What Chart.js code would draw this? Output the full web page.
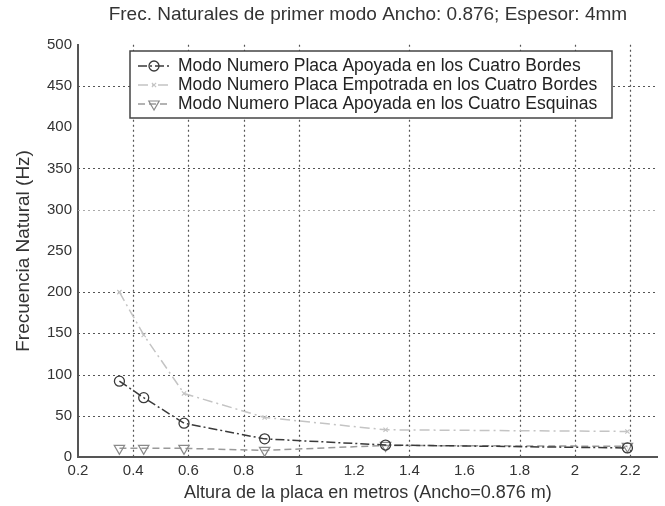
<!DOCTYPE html>
<html>
<head>
<meta charset="utf-8">
<script src="https://cdn.jsdelivr.net/npm/chart.js@4/dist/chart.umd.min.js"></script>
<style>
  html, body { margin: 0; padding: 0; background: #ffffff; }
  canvas { display: block; }
</style>
</head>
<body>
<canvas id="c" width="665" height="506"></canvas>
<script>
// ---- data ----
const alturas = [0.35, 0.438, 0.584, 0.876, 1.314, 2.19];          // plate height (m)
const apoyadaBordes = [92, 72, 41, 22, 14.5, 11];                  // Hz
const empotradaBordes = [200, 148, 77, 48, 33, 31];                // Hz
const apoyadaEsquinas = [10.5, 10.5, 10.5, 8, 14, 13];             // Hz
const xTicks = [0.2, 0.4, 0.6, 0.8, 1, 1.2, 1.4, 1.6, 1.8, 2, 2.2];
const yTicks = [0, 50, 100, 150, 200, 250, 300, 350, 400, 450, 500];
// grid lines that are visible in the reference
const xGrid = [0.4, 0.6, 0.8, 1, 1.4, 1.8, 2, 2.2];
const yGrid = [50, 100, 150, 200, 300, 350, 450];
const seriesNames = [
  'Modo Numero Placa Apoyada en los Cuatro Bordes',
  'Modo Numero Placa Empotrada en los Cuatro Bordes',
  'Modo Numero Placa Apoyada en los Cuatro Esquinas'
];
const titulo = 'Frec. Naturales de primer modo Ancho: 0.876; Espesor: 4mm';
const tituloX = 'Altura de la placa en metros (Ancho=0.876 m)';
const tituloY = 'Frecuencia Natural (Hz)';

const toPts = ys => ys.map((y, i) => ({ x: alturas[i], y: y }));
const FONT = '"Liberation Sans", Arial, Helvetica, sans-serif';

const dottedGrid = {
  id: 'dottedGrid',
  beforeDatasetsDraw(chart) {
    const ctx = chart.ctx, a = chart.chartArea;
    const xs = chart.scales.x, ys = chart.scales.y;
    ctx.save();
    ctx.lineWidth = 1.2;
    ctx.setLineDash([2, 3]);
    xGrid.forEach(v => {
      const px = Math.round(xs.getPixelForValue(v)) + 0.5;
      ctx.strokeStyle = '#555';
      ctx.beginPath(); ctx.moveTo(px, a.top); ctx.lineTo(px, a.bottom); ctx.stroke();
    });
    yGrid.forEach(v => {
      const py = Math.round(ys.getPixelForValue(v)) + 0.5;
      ctx.strokeStyle = v === 300 ? '#aaa' : '#555';
      ctx.beginPath(); ctx.moveTo(a.left, py); ctx.lineTo(a.right, py); ctx.stroke();
    });
    ctx.restore();
  }
};

const legendBox = {
  id: 'legendBox',
  afterDatasetsDraw(chart) {
    const ctx = chart.ctx;
    const x0 = 130, y0 = 51, x1 = 612, y1 = 118;
    ctx.save();
    ctx.fillStyle = '#ffffff';
    ctx.fillRect(x0, y0, x1 - x0, y1 - y0);
    ctx.strokeStyle = '#444';
    ctx.lineWidth = 1.5;
    ctx.strokeRect(x0, y0, x1 - x0, y1 - y0);
    const rows = [66, 85, 104];
    chart.data.datasets.forEach((ds, i) => {
      const y = rows[i];
      ctx.save();
      ctx.strokeStyle = ds.borderColor;
      ctx.lineWidth = ds.borderWidth;
      ctx.setLineDash(ds.borderDash || []);
      ctx.beginPath();
      ctx.moveTo(138, y);
      ctx.lineTo(170, y);
      ctx.stroke();
      ctx.restore();
      ctx.save();
      ctx.fillStyle = 'rgba(0,0,0,0)';
      ctx.strokeStyle = ds.pointBorderColor;
      ctx.lineWidth = ds.pointBorderWidth || 1;
      Chart.helpers.drawPoint(ctx, {
        pointStyle: ds.pointStyle,
        rotation: ds.pointRotation || 0,
        radius: ds.pointRadius,
        borderWidth: ds.pointBorderWidth || 1
      }, 154, y);
      ctx.restore();
      ctx.fillStyle = '#222';
      ctx.font = '17.5px ' + FONT;
      ctx.textBaseline = 'middle';
      ctx.textAlign = 'left';
      ctx.fillText(ds.label, 178, y);
    });
    ctx.restore();
  }
};

new Chart(document.getElementById('c'), {
  type: 'line',
  data: {
    datasets: [
      {
        label: seriesNames[0],
        data: toPts(apoyadaBordes),
        borderColor: '#3a3a3a',
        borderWidth: 1.5,
        borderDash: [9, 3, 2, 3],
        pointStyle: 'circle',
        pointRadius: 5,
        pointBorderColor: '#3a3a3a',
        pointBackgroundColor: 'rgba(0,0,0,0)',
        pointBorderWidth: 1.3
      },
      {
        label: seriesNames[1],
        data: toPts(empotradaBordes),
        borderColor: '#c4c4c4',
        borderWidth: 1.5,
        borderDash: [10, 4, 2, 4],
        pointStyle: 'crossRot',
        pointRadius: 3,
        pointBorderColor: '#c4c4c4',
        pointBackgroundColor: 'rgba(0,0,0,0)',
        pointBorderWidth: 1.2
      },
      {
        label: seriesNames[2],
        data: toPts(apoyadaEsquinas),
        borderColor: '#9a9a9a',
        borderWidth: 1.5,
        borderDash: [7, 4],
        pointStyle: 'triangle',
        pointRotation: 180,
        pointRadius: 6,
        pointBorderColor: '#8a8a8a',
        pointBackgroundColor: 'rgba(0,0,0,0)',
        pointBorderWidth: 1.2
      }
    ]
  },
  options: {
    responsive: false,
    animation: false,
    devicePixelRatio: 1,
    layout: { padding: { left: 0, right: 6, top: 0, bottom: 0 } },
    plugins: {
      legend: { display: false },
      tooltip: { enabled: false },
      title: {
        display: true,
        text: titulo,
        fullSize: false,
        color: '#333',
        font: { family: FONT, size: 19, weight: 'normal' },
        padding: { top: 3, bottom: 19 }
      }
    },
    scales: {
      x: {
        type: 'linear',
        min: 0.2,
        max: 2.3,
        afterBuildTicks: s => { s.ticks = xTicks.map(v => ({ value: v })); },
        afterFit: s => { s.height = 49; },
        ticks: {
          color: '#333',
          font: { family: FONT, size: 15 },
          padding: 5,
          maxRotation: 0,
          autoSkip: false,
          callback: v => String(v)
        },
        grid: { display: false, drawTicks: false },
        border: { display: true, color: '#555', width: 2 },
        title: {
          display: true,
          text: tituloX,
          color: '#333',
          font: { family: FONT, size: 18 },
          padding: { top: 0, bottom: 2 }
        }
      },
      y: {
        min: 0,
        max: 500,
        afterBuildTicks: s => { s.ticks = yTicks.map(v => ({ value: v })); },
        afterFit: s => { s.width = 78; },
        ticks: {
          color: '#333',
          font: { family: FONT, size: 15 },
          padding: 6
        },
        grid: { display: false, drawTicks: false },
        border: { display: true, color: '#555', width: 2 },
        title: {
          display: true,
          text: tituloY,
          color: '#333',
          font: { family: FONT, size: 19 },
          padding: { top: 12, bottom: 2 }
        }
      }
    }
  },
  plugins: [dottedGrid, legendBox]
});
</script>
</body>
</html>
